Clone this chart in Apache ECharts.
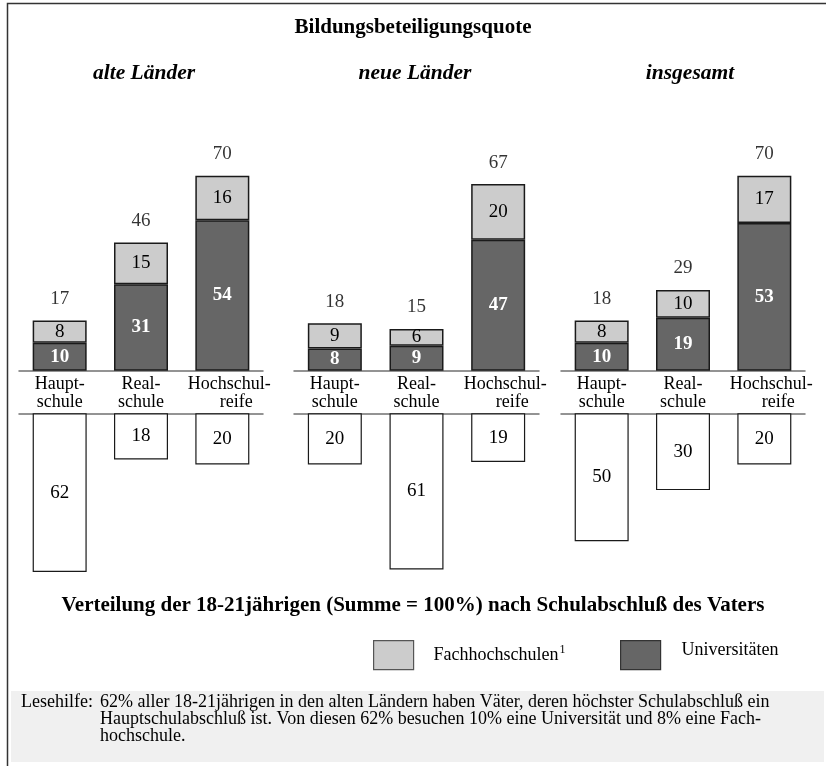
<!DOCTYPE html>
<html><head><meta charset="utf-8">
<script src="https://cdn.jsdelivr.net/npm/echarts@6/dist/echarts.min.js"></script>
<style>html,body{margin:0;padding:0;background:#fff}#c{width:826px;height:766px}</style>
</head><body><div id="c"></div>
<script>
const panels = ['alte Länder', 'neue Länder', 'insgesamt'];
const categories = ['Haupt-\nschule', 'Real-\nschule', 'Hochschul-\nreife'];
const uniAlte = [10, 31, 54];
const fhAlte = [8, 15, 16];
const totalAlte = [17, 46, 70];
const distAlte = [62, 18, 20];
const uniNeue = [8, 9, 47];
const fhNeue = [9, 6, 20];
const totalNeue = [18, 15, 67];
const distNeue = [20, 61, 19];
const uniGes = [10, 19, 53];
const fhGes = [8, 10, 17];
const totalGes = [18, 29, 70];
const distGes = [50, 30, 20];

const uni = [uniAlte, uniNeue, uniGes];
const fh = [fhAlte, fhNeue, fhGes];
const totals = [totalAlte, totalNeue, totalGes];
const dist = [distAlte, distNeue, distGes];

const FONT = 'Liberation Serif';
const NUM = 19;
const DARK = '#666666', LIGHT = '#cccccc', EDGE = '#1a1a1a', AXIS = '#707070';
const gl = [{left: 19, width: 244}, {left: 294, width: 245}, {left: 561, width: 244}];
const headX = [144, 415, 690];

const grids = [], xAxes = [], yAxes = [], series = [], titles = [];
titles.push({text: 'Bildungsbeteiligungsquote', left: 413, top: 17, textAlign: 'center', padding: 0,
  textStyle: {fontFamily: FONT, fontSize: 21, fontWeight: 'bold', color: '#000'}});
titles.push({text: 'Verteilung der 18-21jährigen (Summe = 100%) nach Schulabschluß des Vaters', left: 413, top: 595, textAlign: 'center', padding: 0,
  textStyle: {fontFamily: FONT, fontSize: 21, fontWeight: 'bold', color: '#000'}});
titles.push({text: 'Lesehilfe:', left: 21, top: 694, padding: 0,
  textStyle: {fontFamily: FONT, fontSize: 18, fontWeight: 'normal', color: '#000', lineHeight: 17}});
titles.push({text: '62% aller 18-21jährigen in den alten Ländern haben Väter, deren höchster Schulabschluß ein\nHauptschulabschluß ist. Von diesen 62% besuchen 10% eine Universität und 8% eine Fach-\nhochschule.', left: 100, top: 694, padding: 0,
  textStyle: {fontFamily: FONT, fontSize: 18, fontWeight: 'normal', color: '#000', lineHeight: 17}});

panels.forEach((p, i) => {
  titles.push({text: p, left: headX[i], top: 62, textAlign: 'center', padding: 0,
    textStyle: {fontFamily: FONT, fontSize: 21.5, fontWeight: 'bold', fontStyle: 'italic', color: '#000'}});
  const gu = grids.length;
  grids.push({left: gl[i].left, width: gl[i].width, top: 175.7, height: 195});
  grids.push({left: gl[i].left, width: gl[i].width, top: 413.3, height: 179.2});
  xAxes.push({type: 'category', gridIndex: gu, data: categories, position: 'bottom',
    axisLine: {lineStyle: {color: AXIS, width: 1.5}}, axisTick: {show: false},
    axisLabel: {interval: 0, margin: 5, fontFamily: FONT, fontSize: 18, lineHeight: 17.7, color: '#000',
      formatter: (v) => v.indexOf('Hochschul') === 0 ? '{h|Hochschul-}\n{r|reife}' : v,
      rich: {h: {fontFamily: FONT, fontSize: 18, lineHeight: 17.7, padding: [0, 0, 0, 14]},
             r: {fontFamily: FONT, fontSize: 18, lineHeight: 17.7, padding: [0, 0, 0, 28]}}}});
  xAxes.push({type: 'category', gridIndex: gu + 1, data: categories, position: 'top',
    axisLine: {lineStyle: {color: AXIS, width: 1.5}}, axisTick: {show: false}, axisLabel: {show: false}});
  yAxes.push({type: 'value', gridIndex: gu, min: 0, max: 70, show: false});
  yAxes.push({type: 'value', gridIndex: gu + 1, min: 0, max: 70, inverse: true, show: false});
  series.push({type: 'bar', name: 'Universitäten', xAxisIndex: gu, yAxisIndex: gu, stack: 's' + i, barWidth: 54,
    data: uni[i], itemStyle: {color: DARK, borderColor: EDGE, borderWidth: 1.5},
    label: {show: true, position: 'inside', fontFamily: FONT, fontSize: NUM, fontWeight: 'bold', color: '#fff'}});
  series.push({type: 'bar', name: 'Fachhochschulen', xAxisIndex: gu, yAxisIndex: gu, stack: 's' + i, barWidth: 54,
    data: fh[i], itemStyle: {color: LIGHT, borderColor: EDGE, borderWidth: 1.5},
    label: {show: true, position: 'inside', fontFamily: FONT, fontSize: NUM, color: '#000'}});
  series.push({type: 'scatter', xAxisIndex: gu, yAxisIndex: gu, symbolSize: 0, silent: true,
    data: uni[i].map((u, k) => u + fh[i][k]),
    label: {show: true, position: 'top', distance: 12, fontFamily: FONT, fontSize: NUM, color: '#000',
      formatter: (pr) => String(totals[i][pr.dataIndex])}});
  series.push({type: 'bar', xAxisIndex: gu + 1, yAxisIndex: gu + 1, barWidth: 54,
    data: dist[i], itemStyle: {color: '#fff', borderColor: EDGE, borderWidth: 1.2},
    label: {show: true, position: 'inside', fontFamily: FONT, fontSize: NUM, color: '#000'}});
});

const chart = echarts.init(document.getElementById('c'), null, {renderer: 'canvas'});
chart.setOption({
  animation: false,
  backgroundColor: '#fff',
  title: titles,
  grid: grids, xAxis: xAxes, yAxis: yAxes, series: series,
  legend: [
    {data: ['Fachhochschulen'], left: 373, top: 640, padding: 0, icon: 'rect', itemWidth: 40, itemHeight: 29, selectedMode: false,
      itemStyle: {borderColor: '#555', borderWidth: 1.2},
      formatter: '{a|Fachhochschulen}{s|1}',
      textStyle: {fontFamily: FONT, fontSize: 18, color: '#000',
        rich: {a: {fontFamily: FONT, fontSize: 18, padding: [0, 0, 0, 15]}, s: {fontFamily: FONT, fontSize: 12, padding: [0, 0, 11, 1]}}}},
    {data: ['Universitäten'], left: 620, top: 640, padding: 0, icon: 'rect', itemWidth: 40, itemHeight: 29, selectedMode: false,
      itemStyle: {borderColor: '#333', borderWidth: 1.2},
      formatter: '{a|Universitäten}',
      textStyle: {fontFamily: FONT, fontSize: 18, color: '#000',
        rich: {a: {fontFamily: FONT, fontSize: 18, padding: [0, 0, 10, 16]}}}}
  ],
  graphic: [
    {type: 'rect', left: 5, top: 1, shape: {width: 820, height: 764}, style: {fill: 'none', stroke: '#333', lineWidth: 1.5}, z: -10},
    {type: 'rect', left: 11, top: 691, shape: {width: 813, height: 71}, style: {fill: '#f0f0f0'}, z: -20}
  ]
});
</script></body></html>
